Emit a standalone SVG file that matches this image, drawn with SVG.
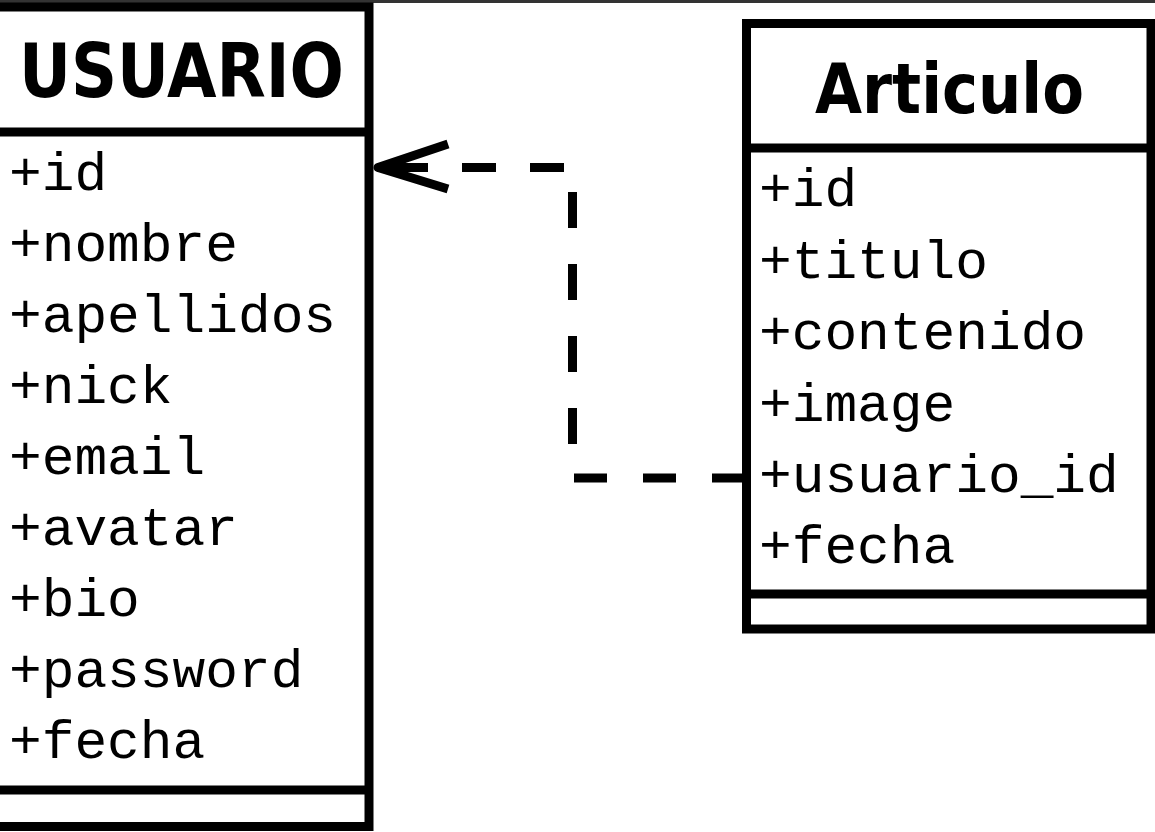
<svg xmlns="http://www.w3.org/2000/svg" width="1155" height="832" viewBox="0 0 1155 832">
<style>
.box{fill:#fff;stroke:#000;stroke-width:9}
.div{stroke:#000;stroke-width:9}
.title{font-family:"DejaVu Sans","Liberation Sans",sans-serif;font-weight:bold;fill:#000}
.attr{font-family:"Liberation Mono","Courier New",monospace;font-size:54.5px;fill:#000}
.dash{fill:none;stroke:#000;stroke-width:9}
</style>
<rect x="0" y="0" width="1155" height="832" fill="#fff"/>
<rect x="0" y="0" width="1155" height="3" fill="#333"/>
<g id="usuario">
<rect class="box" x="-20" y="7" width="389" height="819.5"/>
<line class="div" x1="-20" y1="132" x2="369" y2="132"/>
<line class="div" x1="-20" y1="790" x2="369" y2="790"/>
<text class="title" x="19" y="97" font-size="75" textLength="325" lengthAdjust="spacingAndGlyphs">USUARIO</text>
<text class="attr" x="9" y="190">+id</text>
<text class="attr" x="9" y="261">+nombre</text>
<text class="attr" x="9" y="332">+apellidos</text>
<text class="attr" x="9" y="403">+nick</text>
<text class="attr" x="9" y="474">+email</text>
<text class="attr" x="9" y="545">+avatar</text>
<text class="attr" x="9" y="616">+bio</text>
<text class="attr" x="9" y="687">+password</text>
<text class="attr" x="9" y="758">+fecha</text>
</g>
<g id="articulo">
<rect class="box" x="746.5" y="23.5" width="404.5" height="605.5"/>
<line class="div" x1="746.5" y1="148" x2="1151" y2="148"/>
<line class="div" x1="746.5" y1="594" x2="1151" y2="594"/>
<text class="title" x="815" y="112.5" font-size="70" textLength="269" lengthAdjust="spacingAndGlyphs">Articulo</text>
<text class="attr" x="759" y="206">+id</text>
<text class="attr" x="759" y="278">+titulo</text>
<text class="attr" x="759" y="349">+contenido</text>
<text class="attr" x="759" y="421">+image</text>
<text class="attr" x="759" y="492">+usuario_id</text>
<text class="attr" x="759" y="563">+fecha</text>
</g>
<g id="connectors">
<line class="dash" x1="745" y1="478" x2="574" y2="478" stroke-dasharray="33 36"/>
<line class="dash" x1="572.5" y1="444" x2="572.5" y2="192" stroke-dasharray="36 36"/>
<line class="dash" x1="564" y1="167.5" x2="376" y2="167.5" stroke-dasharray="34 34"/>
<line class="div" x1="428" y1="167.5" x2="380" y2="167.5"/>
<polyline class="dash" points="448,144 378,167.5 448,189" stroke-linejoin="round"/>
</g>
</svg>
